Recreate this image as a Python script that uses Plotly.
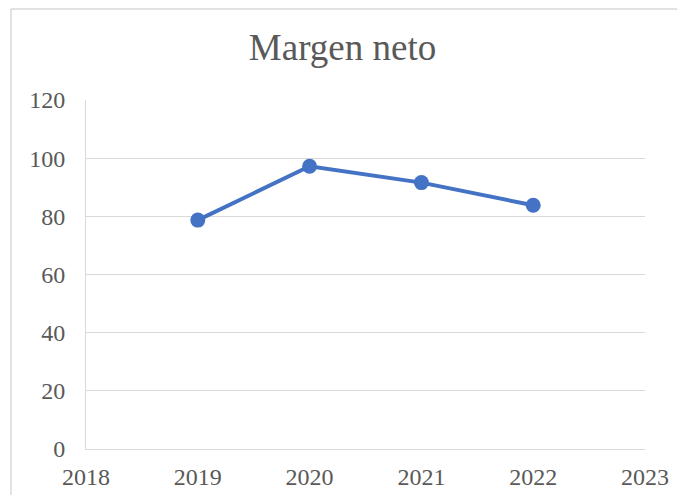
import plotly.graph_objects as go

years = [2019, 2020, 2021, 2022]
margen_neto = [78.7, 97.2, 91.6, 83.8]
x_ticks = [2018, 2019, 2020, 2021, 2022, 2023]
y_ticks = [0, 20, 40, 60, 80, 100, 120]

# page body adds an 8px margin, so the figure is sized to sit inside the window
W, H = 669, 487
L, R, T, B = 78, 32, 92, 46
pw, ph = W - L - R, H - T - B

fig = go.Figure()
fig.add_trace(go.Scatter(
    x=years, y=margen_neto, mode="lines+markers",
    line=dict(color="#4472c4", width=4),
    marker=dict(color="#4472c4", size=15),
    showlegend=False, hoverinfo="x+y",
))

font = dict(family="Liberation Serif", color="#595959")

fig.update_layout(
    width=W, height=H,
    margin=dict(l=L, r=R, t=T, b=B),
    paper_bgcolor="white", plot_bgcolor="white",
    title=dict(text="Margen neto", x=0.5, xanchor="center",
               y=1 - 39 / H, yanchor="middle", yref="container",
               font=dict(size=37, **font)),
    font=dict(size=24, **font),
)
fig.update_xaxes(range=[2018, 2023], tickvals=x_ticks, showgrid=False, zeroline=False,
                 showline=True, linecolor="#d9d9d9", linewidth=1, automargin=False,
                 ticks="", ticklabelstandoff=6, tickfont=dict(size=24, **font))
fig.update_yaxes(range=[0, 120], tickvals=y_ticks, showgrid=True, gridcolor="#d9d9d9",
                 gridwidth=1, zeroline=False, showline=True, linecolor="#d9d9d9",
                 linewidth=1, automargin=False, ticks="", ticklabelstandoff=15,
                 tickfont=dict(size=24, **font))

# outer chart border: only the left and top edges show in the crop
bx, by = (3 - L) / pw, (H - 1 - B) / ph
border = dict(color="#d9d9d9", width=1.5)
fig.add_shape(type="line", xref="paper", yref="paper", x0=bx, x1=bx,
              y0=-(B + 10) / ph, y1=by, line=border, layer="below")
fig.add_shape(type="line", xref="paper", yref="paper", x0=bx, x1=(W + 10 - L) / pw,
              y0=by, y1=by, line=border, layer="below")

fig.write_html("out.html")
